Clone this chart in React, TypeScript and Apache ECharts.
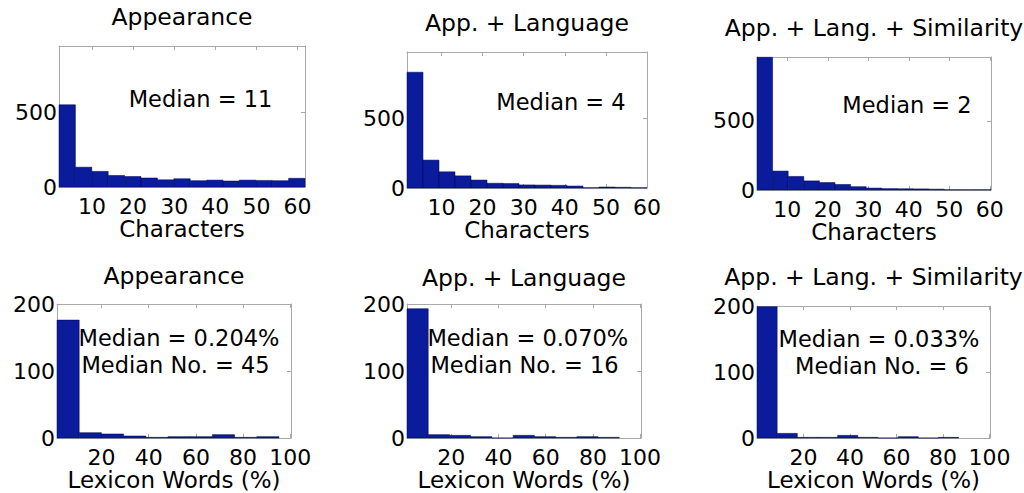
import React, { useEffect, useRef } from "react";
import * as echarts from "echarts";

// ---- data ----
const titles = [
  "Appearance",
  "App. + Language",
  "App. + Lang. + Similarity",
  "Appearance",
  "App. + Language",
  "App. + Lang. + Similarity",
];
const xNames = ["Characters", "Characters", "Characters", "Lexicon Words (%)", "Lexicon Words (%)", "Lexicon Words (%)"];

// top row: histogram counts of characters (15 bins)
const countsApp = [548, 132, 104, 77, 70, 60, 48, 55, 42, 46, 40, 46, 44, 42, 58];
const countsAppLang = [830, 200, 116, 87, 57, 34, 32, 22, 21, 19, 14, 2, 7, 5, 2];
const countsAppLangSim = [960, 137, 98, 66, 54, 40, 24, 14, 10, 9, 8, 6, 2, 2, 2];
// bottom row: histogram counts of lexicon words % (10 bins)
const lexApp = [176, 8, 6, 3, 1, 2, 2, 5, 1, 2];
const lexAppLang = [193, 5, 4, 2, 0, 4, 2, 1, 2, 1];
const lexAppLangSim = [199, 7, 1, 1, 4, 1, 0, 2, 0, 1];

const allCounts = [countsApp, countsAppLang, countsAppLangSim, lexApp, lexAppLang, lexAppLangSim];

// bin ranges [first edge, last edge]
const binRanges = [
  [2, 61.8],
  [1.6, 60],
  [2.5, 60.3],
  [1.15, 95.2],
  [1.2, 91.2],
  [0, 86.7],
];
// axis ranges
const xRanges = [
  [2, 61.8],
  [1.6, 60],
  [2.5, 60.3],
  [1.15, 100.3],
  [1.2, 100.4],
  [0, 100.2],
];
const yMaxes = [940, 975, 962, 200, 200, 200];

const charTicks = [10, 20, 30, 40, 50, 60];
const lexTicks = [20, 40, 60, 80, 100];
const charYTicks = [0, 500];
const lexYTicks = [0, 100, 200];

const medianLines = [
  ["Median = 11"],
  ["Median = 4"],
  ["Median = 2"],
  ["Median = 0.204%", "Median No. = 45"],
  ["Median = 0.070%", "Median No. = 16"],
  ["Median = 0.033%", "Median No. = 6"],
];

// ---- layout ----
const grids = [
  { left: 59, top: 46, width: 246, height: 141 },
  { left: 407, top: 52, width: 240, height: 136 },
  { left: 757, top: 57, width: 234, height: 133 },
  { left: 57, top: 304, width: 234, height: 134 },
  { left: 407, top: 304, width: 234, height: 134 },
  { left: 757, top: 306, width: 233, height: 132 },
];
const titleY = [16.7, 23.3, 28.3, 275.5, 277.5, 276.5];
const medianPos = [
  [[200.5, 98.7]],
  [[561, 101.7]],
  [[907, 105]],
  [[179, 338], [175.5, 365]],
  [[527.8, 338], [524.5, 365]],
  [[879, 339], [882, 366]],
];

const FONT = "DejaVu Sans";
const BOX = "#a9a9a9";
const BAR = "#0a1c9c";

function buildOption() {
  const grid: any[] = [];
  const xAxis: any[] = [];
  const yAxis: any[] = [];
  const series: any[] = [];
  const graphic: any[] = [];

  for (let i = 0; i < 6; i++) {
    const g = grids[i];
    grid.push({ ...g, containLabel: false, outerBoundsMode: "none" });
    const isTop = i < 3;
    const xt = isTop ? charTicks : lexTicks;
    const yt = isTop ? charYTicks : lexYTicks;
    const [xmin, xmax] = xRanges[i];

    xAxis.push({
      gridIndex: i,
      type: "value",
      position: "bottom",
      min: xmin,
      max: xmax,
      axisLine: { show: true, onZero: false, lineStyle: { color: BOX, width: 1 } },
      axisTick: { show: true, inside: true, length: 4, customValues: xt, lineStyle: { color: BOX } },
      axisLabel: { show: true, customValues: xt, color: "#000", fontSize: 22, fontFamily: FONT, margin: 8 },
      splitLine: { show: false },
      name: xNames[i],
      nameLocation: "middle",
      nameGap: 29,
      nameTextStyle: { color: "#000", fontSize: 23, fontFamily: FONT, verticalAlign: "top" },
    });
    xAxis.push({
      gridIndex: i,
      type: "value",
      position: "top",
      min: xmin,
      max: xmax,
      axisLine: { show: true, onZero: false, lineStyle: { color: BOX, width: 1 } },
      axisTick: { show: true, inside: true, length: 4, customValues: xt, lineStyle: { color: BOX } },
      axisLabel: { show: false },
      splitLine: { show: false },
    });
    yAxis.push({
      gridIndex: i,
      type: "value",
      position: "left",
      min: 0,
      max: yMaxes[i],
      axisLine: { show: true, onZero: false, lineStyle: { color: BOX, width: 1 } },
      axisTick: { show: true, inside: true, length: 4, customValues: yt, lineStyle: { color: BOX } },
      axisLabel: { show: true, customValues: yt, color: "#000", fontSize: 22, fontFamily: FONT, margin: 2 },
      splitLine: { show: false },
    });
    yAxis.push({
      gridIndex: i,
      type: "value",
      position: "right",
      min: 0,
      max: yMaxes[i],
      axisLine: { show: true, onZero: false, lineStyle: { color: BOX, width: 1 } },
      axisTick: { show: true, inside: true, length: 4, customValues: yt, lineStyle: { color: BOX } },
      axisLabel: { show: false },
      splitLine: { show: false },
    });

    const counts = allCounts[i];
    const [b0, b1] = binRanges[i];
    const w = (b1 - b0) / counts.length;
    const data = counts.map((c, k) => [b0 + k * w, b0 + (k + 1) * w, c]);
    series.push({
      type: "custom",
      xAxisIndex: i * 2,
      yAxisIndex: i * 2,
      encode: { x: [0, 1], y: 2 },
      data,
      renderItem: (params: any, api: any) => {
        const p0 = api.coord([api.value(0), api.value(2)]);
        const p1 = api.coord([api.value(1), 0]);
        return {
          type: "rect",
          shape: { x: p0[0], y: p0[1], width: p1[0] - p0[0], height: p1[1] - p0[1] },
          style: { fill: BAR, stroke: "#000050", lineWidth: 0.5 },
        };
      },
      z: 1,
    });

    graphic.push({
      type: "text",
      x: g.left + g.width / 2,
      y: titleY[i],
      style: {
        text: titles[i],
        fill: "#000",
        font: `23.5px "${FONT}"`,
        align: "center",
        verticalAlign: "middle",
      },
    });
    medianLines[i].forEach((t, k) => {
      const [mx, my] = medianPos[i][k];
      graphic.push({
        type: "text",
        x: mx,
        y: my,
        z: 10,
        style: {
          text: t,
          fill: "#000",
          font: `22.5px "${FONT}"`,
          align: "center",
          verticalAlign: "middle",
        },
      });
    });
  }

  return {
    animation: false,
    backgroundColor: "#fff",
    grid,
    xAxis,
    yAxis,
    series,
    graphic,
  };
}

export default function App() {
  const ref = useRef<HTMLDivElement>(null);
  useEffect(() => {
    if (!ref.current) return;
    const chart = echarts.init(ref.current, undefined, { renderer: "svg" });
    chart.setOption(buildOption() as any);
    return () => chart.dispose();
  }, []);
  return (
    <div
      ref={ref}
      style={{ position: "absolute", left: 0, top: 0, width: 1024, height: 493 }}
    />
  );
}
